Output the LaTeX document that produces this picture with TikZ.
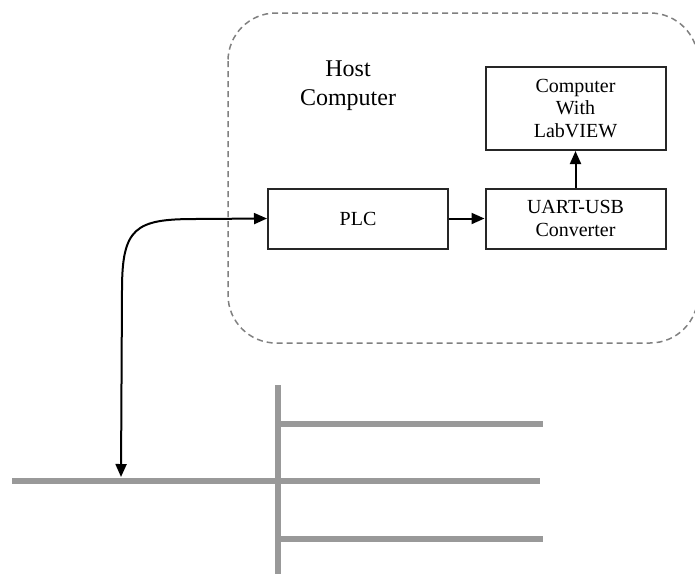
\documentclass[tikz,border=0pt]{standalone}
\usepackage{fontspec}
\setmainfont{Liberation Serif}
\usetikzlibrary{arrows.meta}
\tikzset{
  blk/.style={draw=black!85, line width=2pt, minimum width=180pt, inner sep=0pt, align=center, font=\fontsize{20}{22.5}\selectfont},
  tip/.style={Triangle[length=13pt,width=11pt]},
  conn/.style={draw=black, line width=2pt, -{Triangle[length=13pt,width=11pt]}},
  bus/.style={draw=black!40, line width=5.5pt},
  hostframe/.style={draw=black!50, line width=1.5pt, dash pattern=on 6pt off 4pt, rounded corners=48pt}
}
\begin{document}
\begin{tikzpicture}[x=1pt,y=-1pt]
\useasboundingbox (0,0) rectangle (695,576);
% host frame
\draw[hostframe] (228,13) rectangle (698,343);
\node[font=\fontsize{24}{29}\selectfont, align=center] (host) at (348,86) {Host\\Computer};
% blocks
\node[blk, minimum height=60pt] (plc) at (358,218.5) {PLC};
\node[blk, minimum height=60pt] (uart) at (575.5,218.5) {UART-USB\\Converter};
\node[blk, minimum height=83pt] (pc) at (575.5,108.5) {Computer\\With\\LabVIEW};
% connectors
\draw[conn] (plc.east) -- (uart.west);
\draw[conn] (uart.north) -- (pc.south);
% network
\coordinate (tap) at (121,477);
\coordinate (bl) at (12,481);
\coordinate (br) at (540,481);
\coordinate (vt) at (278,385);
\coordinate (vb) at (278,574);
\coordinate (b1l) at (278,424);
\coordinate (b1r) at (543,424);
\coordinate (b3l) at (278,539);
\coordinate (b3r) at (543,539);
\draw[bus] (bl) -- (br);
\draw[bus] (vt) -- (vb);
\draw[bus] (b1l) -- (b1r);
\draw[bus] (b3l) -- (b3r);
\draw[draw=black, line width=2pt, {Triangle[length=13pt,width=11pt]}-{Triangle[length=13pt,width=11pt]}]
  (tap) -- (122,290) .. controls (122,228) and (135,219) .. (195,219) -- (plc.west);
\end{tikzpicture}
\end{document}
